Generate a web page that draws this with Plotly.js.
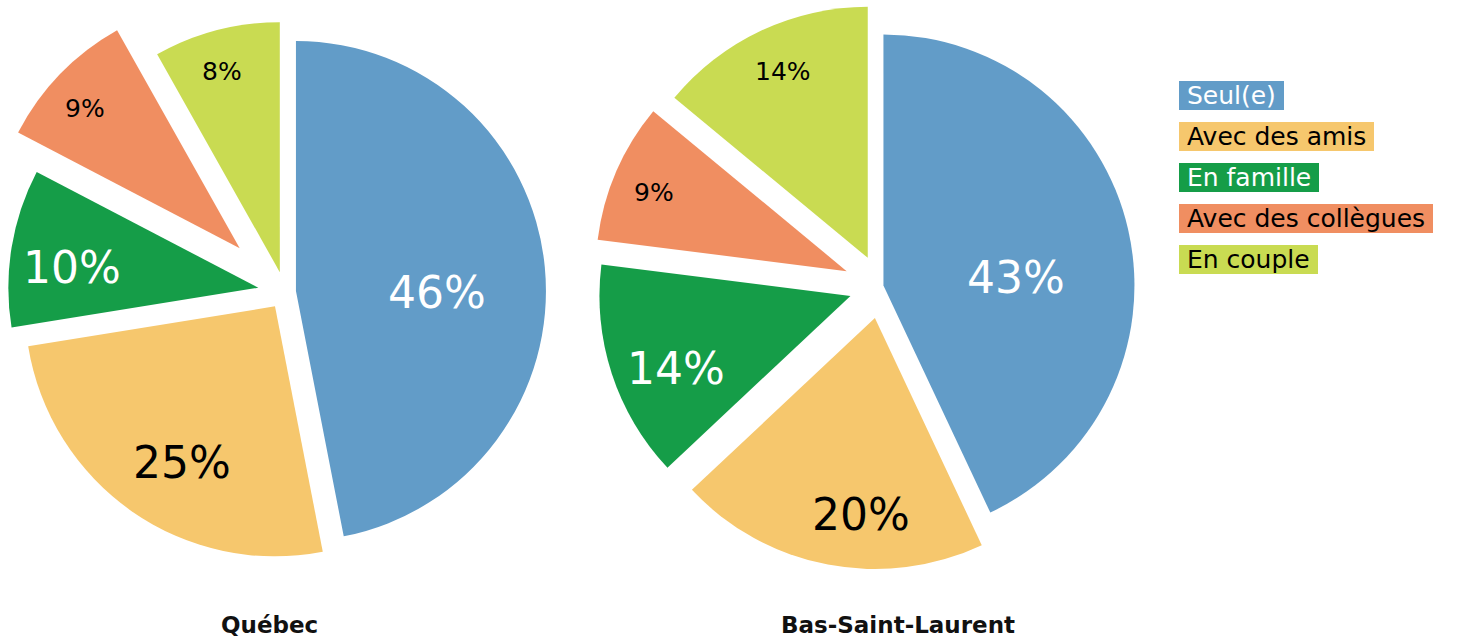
<!DOCTYPE html>
<html><head><meta charset="utf-8">
<script src="https://cdn.plot.ly/plotly-3.0.1.min.js"></script>
<style>
html,body{margin:0;padding:0;overflow:hidden;background:#fff;width:1461px;height:641px;position:relative}
#chart{position:absolute;left:-60px;top:-60px;width:1581px;height:761px}
</style>
</head><body><div id="chart"></div>
<script>
// ---- data ----
const categories = ['Seul(e)', 'Avec des amis', 'En famille', 'Avec des collègues', 'En couple'];
const quebecValues = [46, 25, 10, 9, 8];
const bslValues = [43, 20, 14, 9, 14];
const regions = ['Québec', 'Bas-Saint-Laurent'];

// ---- styles ----
const colors = ['#629CC8', '#F6C76D', '#159D48', '#F08E61', '#C9DB52'];
const textColors = ['#ffffff', '#000000', '#ffffff', '#000000', '#000000'];
const labelSizes = [44, 44, 44, 25, 25];
const FONT = 'DejaVu Sans, sans-serif';

// page is drawn in a slightly larger div so the exploded pies can sit near the edges
const OFF = 60, W = 1461 + 2 * OFF, H = 641 + 2 * OFF;
const px = x => (x + OFF) / W;
const py = y => 1 - (y + OFF) / H;
const rad = d => d * Math.PI / 180;

// pie placement (center, radius) and explosion
const pies = [
  {values: quebecValues, center: [285, 292], R: 250, pull: [0.044, 0.07, 0.108, 0.252, 0.082],
   labelRadius: [0.564, 0.728, 0.75, 0.836, 0.834], labelTurn: [6, -4, -3, -2, -1.4], titleX: 269},
  {values: bslValues, center: [881, 286], R: 251, pull: [0.01, 0.13, 0.128, 0.149, 0.124],
   labelRadius: [0.53, 0.783, 0.752, 0.83, 0.814], labelTurn: [9, -6.7, -4.5, -1.1, 0.7], titleX: 898}
];

function pieDomain(p) {
  const half = p.R * (1 + Math.max(...p.pull));
  const [cx, cy] = p.center;
  return {x: [px(cx - half), px(cx + half)], y: [py(cy + half), py(cy - half)]};
}

const data = pies.map(p => ({
  type: 'pie',
  labels: categories,
  values: p.values,
  textinfo: 'none',
  sort: false,
  direction: 'clockwise',
  rotation: 0,
  pull: p.pull,
  marker: {colors: colors, line: {width: 0}},
  hoverinfo: 'none',
  domain: pieDomain(p)
}));

const annotations = [];
// slice labels, positioned from the slice angles computed from the values
pies.forEach(p => {
  const total = p.values.reduce((a, b) => a + b, 0);
  let cum = 0;
  p.values.forEach((v, i) => {
    const a0 = cum / total * 360; cum += v; const a1 = cum / total * 360;
    const mid = (a0 + a1) / 2;
    const vx = p.center[0] + p.pull[i] * p.R * Math.sin(rad(mid));
    const vy = p.center[1] - p.pull[i] * p.R * Math.cos(rad(mid));
    const ang = rad(mid + p.labelTurn[i]);
    const lx = vx + p.labelRadius[i] * p.R * Math.sin(ang);
    const ly = vy - p.labelRadius[i] * p.R * Math.cos(ang);
    annotations.push({
      text: v + '%', xref: 'paper', yref: 'paper', x: px(lx), y: py(ly),
      xanchor: 'center', yanchor: 'middle', showarrow: false,
      font: {family: FONT, size: labelSizes[i], color: textColors[i]}
    });
  });
});
// region titles
regions.forEach((r, i) => annotations.push({
  text: r, xref: 'paper', yref: 'paper', x: px(pies[i].titleX), y: py(625),
  xanchor: 'center', yanchor: 'middle', showarrow: false,
  font: {family: FONT, size: 23, color: '#111111', weight: 'bold'}
}));
// legend with coloured text boxes
categories.forEach((c, i) => annotations.push({
  text: '\u00a0' + c + '\u00a0', xref: 'paper', yref: 'paper',
  x: px(1179), y: py(95.5 + i * 41), xanchor: 'left', yanchor: 'middle',
  showarrow: false, bgcolor: colors[i], borderpad: 0, borderwidth: 0,
  font: {family: FONT, size: 25, color: textColors[i]}
}));

const layout = {
  width: W, height: H,
  margin: {l: 0, r: 0, t: 0, b: 0},
  showlegend: false,
  paper_bgcolor: '#ffffff',
  annotations: annotations
};
Plotly.newPlot('chart', data, layout, {displayModeBar: false, staticPlot: true});
</script>
</body></html>
